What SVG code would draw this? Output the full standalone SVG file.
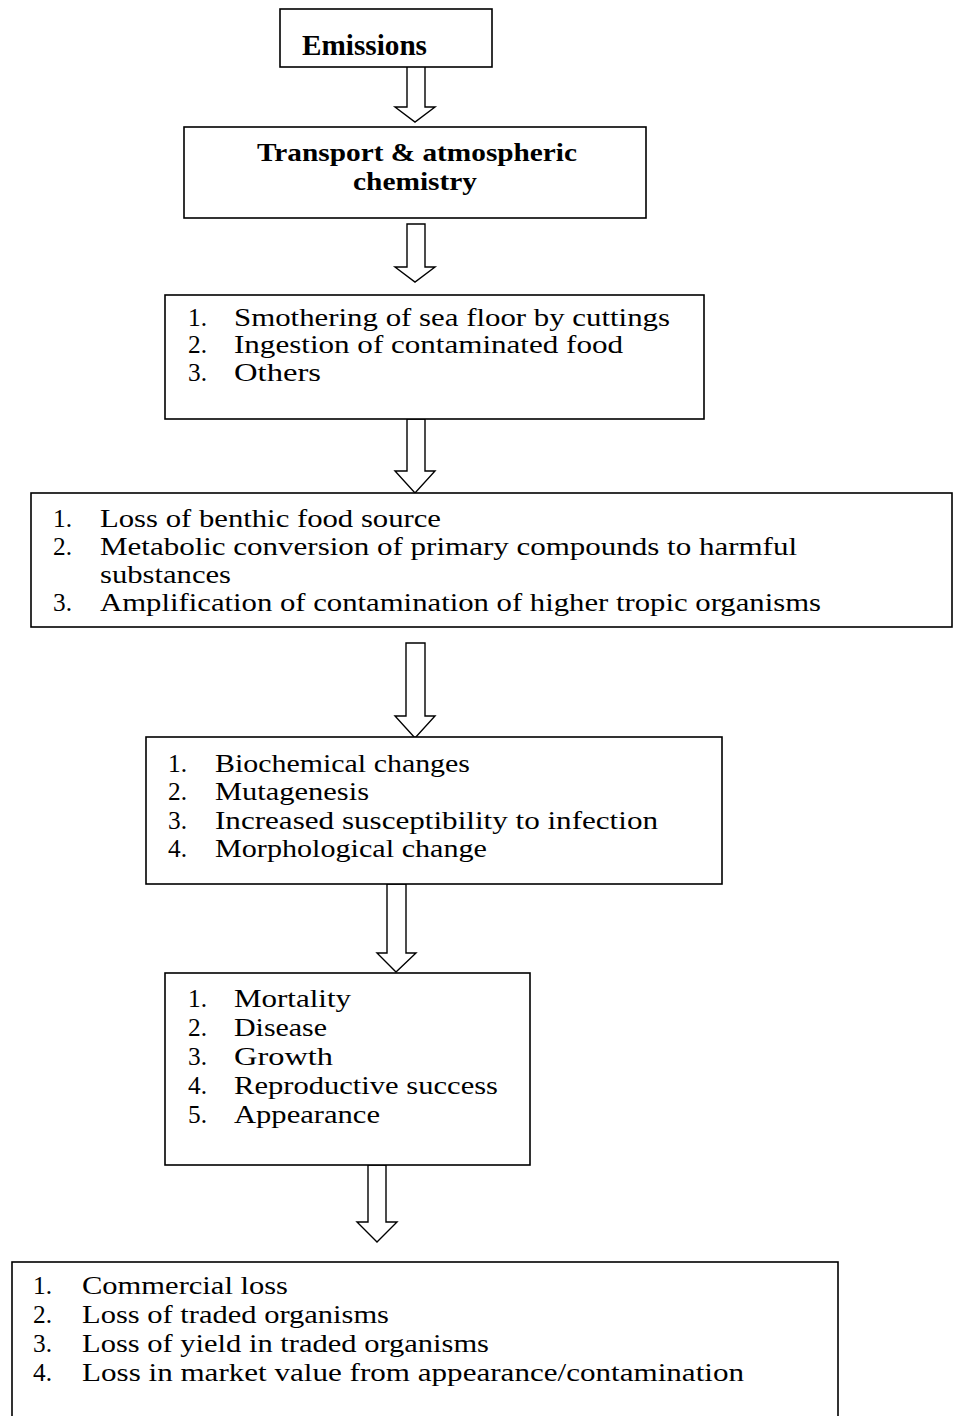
<svg xmlns="http://www.w3.org/2000/svg" width="955" height="1416" viewBox="0 0 955 1416">
<style>
.box{fill:#fff;stroke:#000;stroke-width:1.6}
.arr{fill:#fff;stroke:#000;stroke-width:1.4;stroke-linejoin:miter}
.b{font-family:"Liberation Serif","Times New Roman",serif;font-weight:bold;fill:#000}
.t{font-family:"Liberation Serif","Times New Roman",serif;fill:#000}
</style>
<defs>
<clipPath id="clip4"><rect x="31" y="493" width="921" height="123"/></clipPath>
</defs>
<rect width="955" height="1416" fill="#fff"/>
<g id="connectors">
<path class="arr" d="M407,65 V107 H395 L415,122 L435,107 H425 V65 Z"/>
<path class="arr" d="M407,224 V267 H395 L415,282 L435,267 H425 V224 Z"/>
<path class="arr" d="M407,419 V471 H395 L415,493 L435,471 H425 V419 Z"/>
<path class="arr" d="M406,643 V716 H395 L415,738 L435,716 H425 V643 Z"/>
<path class="arr" d="M387,884 V953 H377 L396,972 L416,953 H406 V884 Z"/>
<path class="arr" d="M368,1165 V1222 H357 L377,1242 L397,1222 H386 V1165 Z"/>
</g>
<g id="emissions">
<rect class="box" x="280" y="9" width="212" height="58"/>
<text class="b" font-size="29" x="302" y="55" textLength="125" lengthAdjust="spacingAndGlyphs">Emissions</text>
</g>
<g id="transport">
<rect class="box" x="184" y="127" width="462" height="91"/>
<text class="b" font-size="26"><tspan x="257" y="161" textLength="320" lengthAdjust="spacingAndGlyphs">Transport &amp; atmospheric</tspan><tspan x="353" y="190" textLength="124" lengthAdjust="spacingAndGlyphs">chemistry</tspan></text>
</g>
<g id="exposure">
<rect class="box" x="165" y="295" width="539" height="124"/>
<text class="t" font-size="24.8"><tspan x="188" y="325.5" textLength="19" lengthAdjust="spacingAndGlyphs">1.</tspan><tspan x="234" y="325.5" textLength="436" lengthAdjust="spacingAndGlyphs">Smothering of sea floor by cuttings</tspan><tspan x="188" y="353" textLength="19" lengthAdjust="spacingAndGlyphs">2.</tspan><tspan x="234" y="353" textLength="389" lengthAdjust="spacingAndGlyphs">Ingestion of contaminated food</tspan><tspan x="188" y="380.5" textLength="19" lengthAdjust="spacingAndGlyphs">3.</tspan><tspan x="234" y="380.5" textLength="87" lengthAdjust="spacingAndGlyphs">Others</tspan></text>
</g>
<g id="effects">
<rect class="box" x="31" y="493" width="921" height="134"/>
<text class="t" font-size="25.2" clip-path="url(#clip4)"><tspan x="53" y="527" textLength="19" lengthAdjust="spacingAndGlyphs">1.</tspan><tspan x="100" y="527" textLength="341" lengthAdjust="spacingAndGlyphs">Loss of benthic food source</tspan><tspan x="53" y="555" textLength="19" lengthAdjust="spacingAndGlyphs">2.</tspan><tspan x="100" y="555" textLength="697" lengthAdjust="spacingAndGlyphs">Metabolic conversion of primary compounds to harmful</tspan><tspan x="100" y="583" textLength="131" lengthAdjust="spacingAndGlyphs">substances</tspan><tspan x="53" y="611" textLength="19" lengthAdjust="spacingAndGlyphs">3.</tspan><tspan x="100" y="611" textLength="721" lengthAdjust="spacingAndGlyphs">Amplification of contamination of higher tropic organisms</tspan></text>
</g>
<g id="biological">
<rect class="box" x="146" y="737" width="576" height="147"/>
<text class="t" font-size="25.7"><tspan x="168" y="771.5" textLength="19" lengthAdjust="spacingAndGlyphs">1.</tspan><tspan x="215" y="771.5" textLength="255" lengthAdjust="spacingAndGlyphs">Biochemical changes</tspan><tspan x="168" y="800" textLength="19" lengthAdjust="spacingAndGlyphs">2.</tspan><tspan x="215" y="800" textLength="154" lengthAdjust="spacingAndGlyphs">Mutagenesis</tspan><tspan x="168" y="828.5" textLength="19" lengthAdjust="spacingAndGlyphs">3.</tspan><tspan x="215" y="828.5" textLength="443" lengthAdjust="spacingAndGlyphs">Increased susceptibility to infection</tspan><tspan x="168" y="857" textLength="19" lengthAdjust="spacingAndGlyphs">4.</tspan><tspan x="215" y="857" textLength="272" lengthAdjust="spacingAndGlyphs">Morphological change</tspan></text>
</g>
<g id="population">
<rect class="box" x="165" y="973" width="365" height="192"/>
<text class="t" font-size="26"><tspan x="188" y="1007" textLength="19" lengthAdjust="spacingAndGlyphs">1.</tspan><tspan x="234" y="1007" textLength="117" lengthAdjust="spacingAndGlyphs">Mortality</tspan><tspan x="188" y="1036" textLength="19" lengthAdjust="spacingAndGlyphs">2.</tspan><tspan x="234" y="1036" textLength="93" lengthAdjust="spacingAndGlyphs">Disease</tspan><tspan x="188" y="1065" textLength="19" lengthAdjust="spacingAndGlyphs">3.</tspan><tspan x="234" y="1065" textLength="99" lengthAdjust="spacingAndGlyphs">Growth</tspan><tspan x="188" y="1094" textLength="19" lengthAdjust="spacingAndGlyphs">4.</tspan><tspan x="234" y="1094" textLength="264" lengthAdjust="spacingAndGlyphs">Reproductive success</tspan><tspan x="188" y="1123" textLength="19" lengthAdjust="spacingAndGlyphs">5.</tspan><tspan x="234" y="1123" textLength="146" lengthAdjust="spacingAndGlyphs">Appearance</tspan></text>
</g>
<g id="economic">
<rect class="box" x="12" y="1262" width="826" height="170"/>
<text class="t" font-size="26"><tspan x="33" y="1294" textLength="19" lengthAdjust="spacingAndGlyphs">1.</tspan><tspan x="82" y="1294" textLength="206" lengthAdjust="spacingAndGlyphs">Commercial loss</tspan><tspan x="33" y="1323" textLength="19" lengthAdjust="spacingAndGlyphs">2.</tspan><tspan x="82" y="1323" textLength="307" lengthAdjust="spacingAndGlyphs">Loss of traded organisms</tspan><tspan x="33" y="1352" textLength="19" lengthAdjust="spacingAndGlyphs">3.</tspan><tspan x="82" y="1352" textLength="407" lengthAdjust="spacingAndGlyphs">Loss of yield in traded organisms</tspan><tspan x="33" y="1381" textLength="19" lengthAdjust="spacingAndGlyphs">4.</tspan><tspan x="82" y="1381" textLength="662" lengthAdjust="spacingAndGlyphs">Loss in market value from appearance/contamination</tspan></text>
</g>
</svg>
